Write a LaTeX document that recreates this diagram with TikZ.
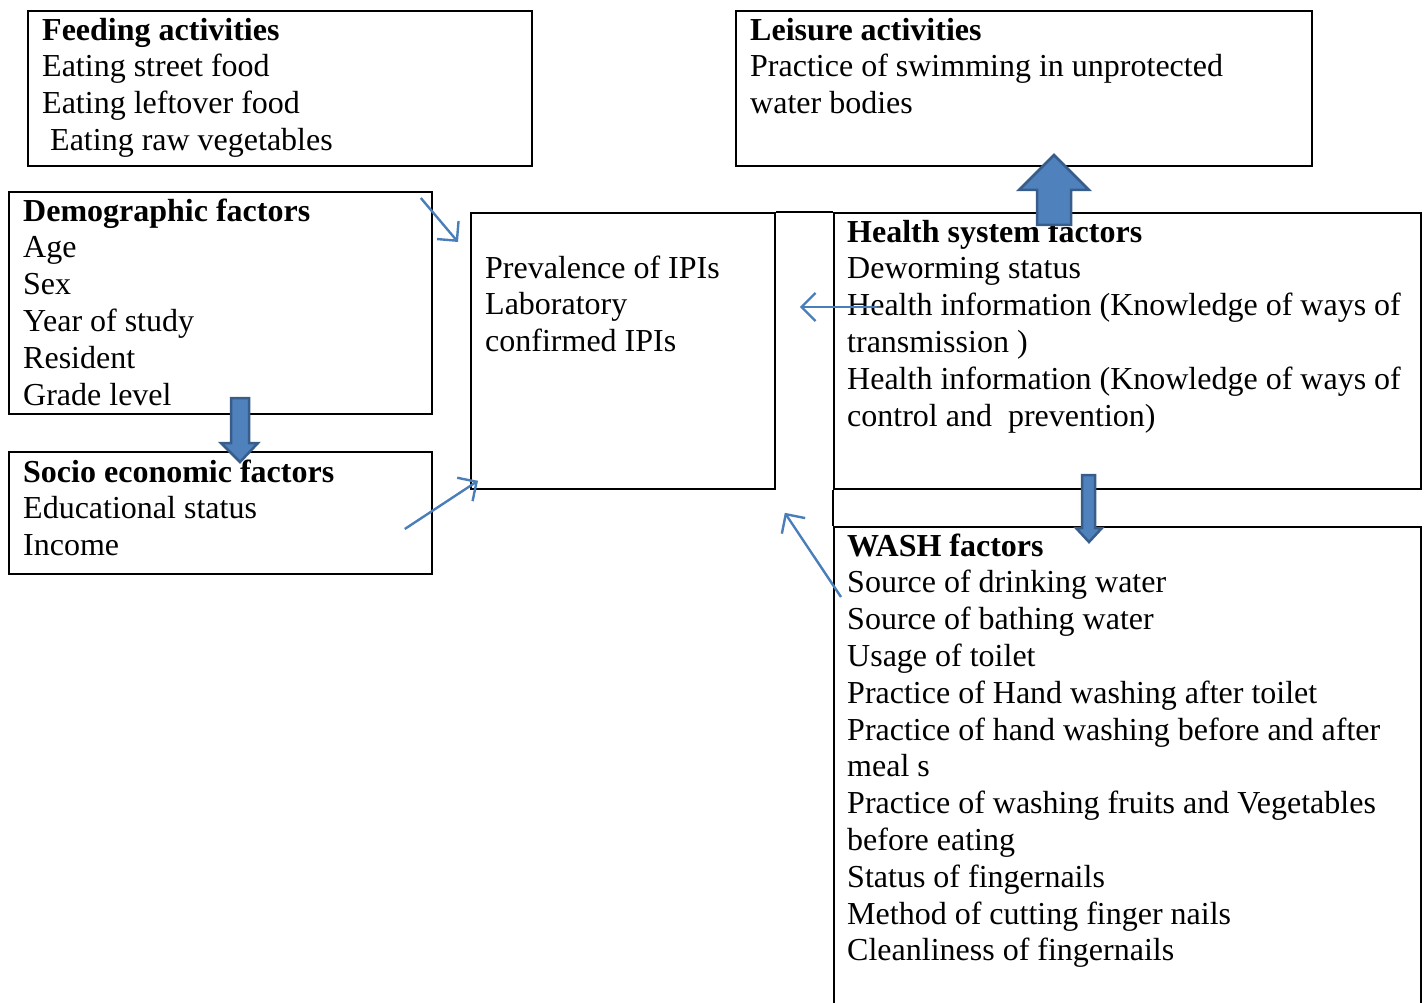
\documentclass[tikz,border=0pt]{standalone}
\usepackage{fontspec}
\setmainfont{Liberation Serif}
\usetikzlibrary{arrows.meta,calc}
\definecolor{linkblue}{HTML}{4A7EBB}
\definecolor{blockfill}{HTML}{4F81BD}
\definecolor{blockedge}{HTML}{385D8A}

\begin{document}
\begin{tikzpicture}[x=1pt, y=-1pt,
    box/.style={draw, black, line width=1.8pt, inner sep=0, anchor=north west},
    txt/.style={anchor=north west, align=left, inner sep=0, font=\fontsize{32}{36.8}\selectfont},
    link/.style={draw, linkblue, line width=2.4pt, -{Straight Barb[length=14pt,width=28pt]}},
    blockarrow/.style={fill=blockfill, draw=blockedge, line width=2.5pt, line join=miter}]
  \useasboundingbox (0,0) rectangle (1425,1003);
  \clip (0,0) rectangle (1425,1003);
  % boxes
  \node [box, minimum width=504, minimum height=155] (feed) at (27,10) {};
  \node [box, minimum width=576, minimum height=155] (leis) at (735,10) {};
  \node [box, minimum width=423, minimum height=222] (demo) at (8,191) {};
  \node [box, minimum width=423, minimum height=122] (socio) at (8,451) {};
  \node [box, minimum width=304, minimum height=276] (prev) at (470,212) {};
  \node [box, minimum width=587, minimum height=276] (health) at (833,212) {};
  \node [box, minimum width=587, minimum height=500] (wash) at (833,526) {};
  \draw [black, line width=1.8pt] (prev.north east) -- (health.north west);
  \draw [black, line width=1.8pt] (health.south west) -- (wash.north west);
  % texts (a strut on the first line fixes the first baseline)
  \node [txt] (feedtxt) at ([shift={(15,4.2)}]feed.north west)
    {\strut\textbf{Feeding activities}\\Eating street food\\Eating leftover food\\\hspace{8pt}Eating raw vegetables};
  \node [txt] (leistxt) at ([shift={(15,4.2)}]leis.north west)
    {\strut\textbf{Leisure activities}\\Practice of swimming in unprotected\\water bodies};
  \node [txt] (demotxt) at ([shift={(15,4.2)}]demo.north west)
    {\strut\textbf{Demographic factors}\\Age\\Sex\\Year of study\\Resident\\Grade level};
  \node [txt] (sociotxt) at ([shift={(15,5.2)}]socio.north west)
    {\strut\textbf{Socio economic factors}\\Educational status\\Income};
  \node [txt] (prevtxt) at ([shift={(15,40.2)}]prev.north west)
    {\strut Prevalence of IPIs\\Laboratory\\confirmed IPIs};
  \node [txt] (healthtxt) at ([shift={(14,4.2)}]health.north west)
    {\strut\textbf{Health system factors}\\Deworming status\\Health information (Knowledge of ways of\\transmission )\\Health information (Knowledge of ways of\\control and\ \ prevention)};
  \node [txt] (washtxt) at ([shift={(14,4.2)}]wash.north west)
    {\strut\textbf{WASH factors}\\Source of drinking water\\Source of bathing water\\Usage of toilet\\Practice of Hand washing after toilet\\Practice of hand washing before and after\\meal s\\Practice of washing fruits and Vegetables\\before eating\\Status of fingernails\\Method of cutting finger nails\\Cleanliness of fingernails};
  % thin arrows
  \draw [link] ([shift={(-12,7)}]demo.north east) -- ([shift={(-12,30)}]prev.north west);
  \draw [link] ([shift={(-28,78)}]socio.north east) -- ([shift={(8,-9)}]prev.south west);
  \draw [link] ([shift={(44,95)}]health.north west) -- ([shift={(24,95)}]prev.north east);
  \draw [link] ([shift={(8,71)}]wash.north west) -- ([shift={(9,23)}]prev.south east);
  % block arrows
  \draw [blockarrow] (1037,225) -- (1037,190) -- (1019,190) -- (1054,155) -- (1089,190) -- (1071,190) -- (1071,225) -- cycle;
  \draw [blockarrow] (231,398) -- (231,443) -- (221,443) -- (240,462) -- (258,443) -- (249,443) -- (249,398) -- cycle;
  \draw [blockarrow] (1082,475) -- (1082,528) -- (1076,528) -- (1089,542) -- (1102,528) -- (1095,528) -- (1095,475) -- cycle;
\end{tikzpicture}
\end{document}
